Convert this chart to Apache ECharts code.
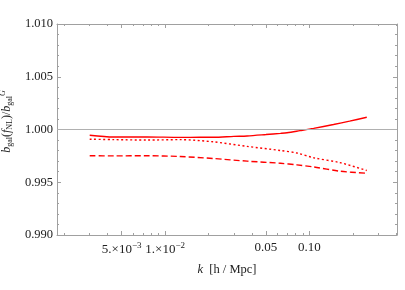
<!DOCTYPE html>
<html>
<head>
<meta charset="utf-8">
<script src="https://cdn.jsdelivr.net/npm/echarts@6/dist/echarts.min.js"></script>
<style>
html,body{margin:0;padding:0;background:#fff;}
#chart{width:405px;height:290px;}
</style>
</head>
<body>
<div id="chart"></div>
<script>
// Data
var kSolid = [0.003, 0.0044, 0.0075, 0.0127, 0.0175, 0.0216, 0.03, 0.037, 0.05, 0.063, 0.07, 0.086, 0.107, 0.147, 0.19, 0.25];
var solidValues = [0.99946, 0.99929, 0.99930, 0.99925, 0.99926, 0.99926, 0.99935, 0.99939, 0.99952, 0.99963, 0.99969, 0.99989, 1.00011, 1.00047, 1.00079, 1.00116];
var kValues = [0.003, 0.0044, 0.0075, 0.0127, 0.0216, 0.037, 0.063, 0.082, 0.107, 0.163, 0.25];
var dottedValues = [0.99908, 0.99904, 0.99900, 0.99904, 0.99883, 0.99840, 0.99801, 0.99777, 0.99732, 0.99686, 0.99611];
var dashedValues = [0.99751, 0.99750, 0.99751, 0.99744, 0.99725, 0.99700, 0.99680, 0.99665, 0.99645, 0.99605, 0.99585];
var xMajorTicks = [0.005, 0.01, 0.05, 0.1];
var xMajorLabels = ['{a|5.×10}{s|−3}', '{a|1.×10}{s|−2}', '0.05', '0.10'];
var xMinorTicks = [0.002, 0.003, 0.004, 0.006, 0.007, 0.008, 0.009, 0.02, 0.03, 0.04, 0.06, 0.07, 0.08, 0.09, 0.2, 0.3, 0.4];

var FONT = 'Liberation Serif';
var AXIS_COLOR = '#a0a0a0';
var XMIN = 0.00178, XMAX = 0.405;

function pairs(xs, ys) { return xs.map(function (k, i) { return [k, ys[i]]; }); }

function xAxisDef(pos, major, withLabels) {
  return {
    type: 'log', logBase: 10, position: pos, min: XMIN, max: XMAX,
    axisLine: { show: major, lineStyle: { color: AXIS_COLOR, width: 1 } },
    axisTick: { show: true, inside: true, length: major ? 4 : 2, customValues: major ? xMajorTicks : xMinorTicks, lineStyle: { color: AXIS_COLOR } },
    minorTick: { show: false },
    splitLine: { show: false },
    axisLabel: withLabels ? {
      show: true, customValues: xMajorTicks, margin: 6,
      fontFamily: FONT, fontSize: 13, color: '#222',
      formatter: function (v) {
        for (var i = 0; i < xMajorTicks.length; i++) {
          if (Math.abs(v - xMajorTicks[i]) / xMajorTicks[i] < 1e-6) return xMajorLabels[i];
        }
        return '';
      },
      rich: {
        a: { fontFamily: FONT, fontSize: 13, color: '#222' },
        s: { fontFamily: FONT, fontSize: 9, color: '#222', padding: [0, 0, 8, 0] }
      }
    } : { show: false }
  };
}

function yAxisDef(pos, withLabels) {
  return {
    type: 'value', position: pos, min: 0.990, max: 1.010, interval: 0.005,
    axisLine: { show: true, lineStyle: { color: AXIS_COLOR, width: 1 } },
    axisTick: { show: true, inside: true, length: 4, lineStyle: { color: AXIS_COLOR } },
    minorTick: { show: true, splitNumber: 5, length: 2, lineStyle: { color: AXIS_COLOR } },
    splitLine: { show: false },
    axisLabel: withLabels ? {
      show: true, margin: 4, fontFamily: FONT, fontSize: 12.5, color: '#222',
      formatter: function (v) { return v.toFixed(3); }
    } : { show: false }
  };
}

var xBottom = xAxisDef('bottom', true, true);
xBottom.name = '{i|k}{n|  [h / Mpc]}';
xBottom.nameLocation = 'middle';
xBottom.nameGap = 28;
xBottom.nameTextStyle = {
  rich: {
    i: { fontFamily: FONT, fontSize: 12.5, fontStyle: 'italic', color: '#222' },
    n: { fontFamily: FONT, fontSize: 12.5, color: '#222' }
  }
};

var yLeft = yAxisDef('left', true);
yLeft.name = '{i|b}{sb|gal}{n|(}{i|f}{sb|NL}{n|)/}{i|b}{sb|gal}{sp|G}';
yLeft.nameLocation = 'middle';
yLeft.nameRotate = 90;
yLeft.nameGap = 35;
yLeft.nameTextStyle = {
  padding: [0, 0, 0, 16],
  rich: {
    i: { fontFamily: FONT, fontSize: 12, fontStyle: 'italic', color: '#222' },
    n: { fontFamily: FONT, fontSize: 12, color: '#222' },
    sb: { fontFamily: FONT, fontSize: 8, color: '#222', padding: [6, 0, 0, 0] },
    sp: { fontFamily: FONT, fontSize: 8, fontStyle: 'italic', color: '#222', padding: [0, 0, 8, 0] }
  }
};

var chart = echarts.init(document.getElementById('chart'), null, { renderer: 'canvas' });
chart.setOption({
  animation: false,
  backgroundColor: '#fff',
  grid: { left: 57, right: 8, top: 24, bottom: 55, containLabel: false, outerBoundsMode: 'none' },
  xAxis: [
    xBottom,
    xAxisDef('bottom', false, false),
    xAxisDef('top', true, false),
    xAxisDef('top', false, false)
  ],
  yAxis: [
    yLeft,
    yAxisDef('right', false)
  ],
  series: [
    {
      type: 'line', data: pairs(kSolid, solidValues), showSymbol: false, smooth: 0.3,
      lineStyle: { color: '#ff0000', width: 1.4, type: 'solid' },
      markLine: {
        silent: true, symbol: 'none', label: { show: false },
        lineStyle: { color: '#b0b0b0', width: 1, type: 'solid' },
        data: [{ yAxis: 1.0 }]
      },
      z: 3
    },
    {
      type: 'line', data: pairs(kValues, dottedValues), showSymbol: false, smooth: 0.3,
      lineStyle: { color: '#ff0000', width: 1.4, type: [2, 2.5] }, z: 3
    },
    {
      type: 'line', data: pairs(kValues, dashedValues), showSymbol: false, smooth: 0.3,
      lineStyle: { color: '#ff0000', width: 1.4, type: [6, 3] }, z: 3
    }
  ]
});
</script>
</body>
</html>
